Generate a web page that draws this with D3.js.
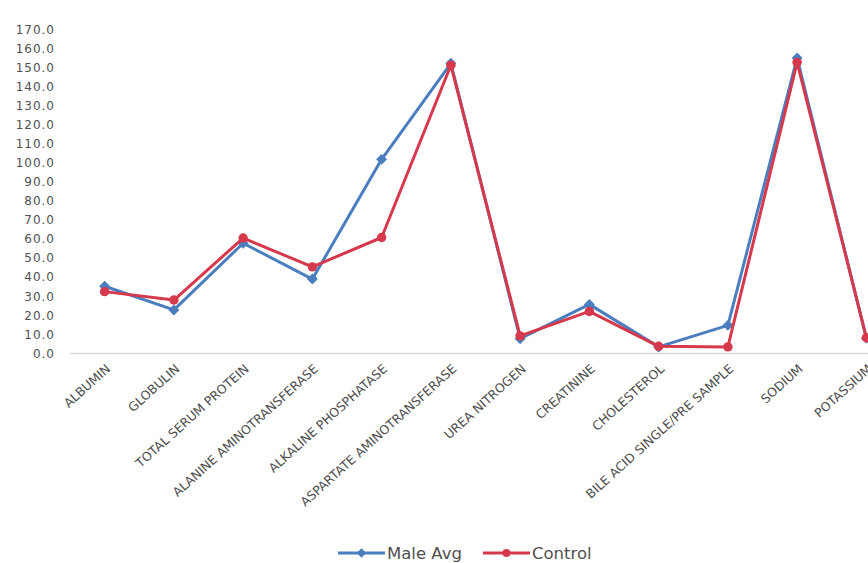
<!DOCTYPE html>
<html>
<head>
<meta charset="utf-8">
<script src="https://cdn.jsdelivr.net/npm/d3@7"></script>
<style>
  html, body { margin: 0; padding: 0; background: #fff; }
  svg { display: block; }
</style>
</head>
<body>
<svg id="chart" width="868" height="563"></svg>
<script>
// Serum chemistry parameters
const categories = [
  "ALBUMIN", "GLOBULIN", "TOTAL SERUM PROTEIN", "ALANINE AMINOTRANSFERASE",
  "ALKALINE PHOSPHATASE", "ASPARTATE AMINOTRANSFERASE", "UREA NITROGEN",
  "CREATININE", "CHOLESTEROL", "BILE ACID SINGLE/PRE SAMPLE", "SODIUM", "POTASSIUM"
];
const maleAvg = [35.0, 22.6, 57.6, 38.8, 101.6, 152.0, 7.5, 25.5, 3.2, 14.5, 154.8, 7.8];
const control = [32.2, 27.8, 60.3, 45.2, 60.6, 151.0, 9.0, 21.8, 3.5, 3.2, 152.5, 8.0];
const yTicks = [0, 10, 20, 30, 40, 50, 60, 70, 80, 90, 100, 110, 120, 130, 140, 150, 160, 170];
const seriesNames = ["Male Avg", "Control"];
const seriesColors = ["#4a7ebf", "#d6384c"];

const svg = d3.select("#chart");
const plotLeft = 70, plotRight = 901, plotTop = 29, plotBottom = 353;

const x = d3.scalePoint().domain(categories).range([plotLeft, plotRight]).padding(0.5);
const y = d3.scaleLinear().domain([0, 170]).range([plotBottom, plotTop]);

// Marker shapes: square turned 45° for Male Avg, circle for Control
const markerType = [d3.symbolSquare, d3.symbolCircle];
const markerRotate = [45, 0];

// Y axis labels (no axis line)
const yAxis = svg.append("g")
  .attr("transform", `translate(${55},0)`)
  .call(d3.axisLeft(y).tickValues(yTicks).tickFormat(d3.format(".1f")).tickSize(0).tickPadding(0));
yAxis.select(".domain").remove();
yAxis.selectAll("text")
  .attr("fill", "#505050")
  .attr("font-family", "DejaVu Sans, sans-serif")
  .attr("font-size", 12)
  .attr("letter-spacing", 1)
  .attr("dy", "0.35em");

// Category axis
const xAxis = svg.append("g")
  .attr("transform", `translate(0,${plotBottom})`)
  .call(d3.axisBottom(x).tickSize(0).tickPadding(0));
xAxis.select(".domain").remove();
svg.append("line")
  .attr("x1", plotLeft).attr("x2", 868)
  .attr("y1", plotBottom + 0.5).attr("y2", plotBottom + 0.5)
  .attr("stroke", "#d9d9d9").attr("stroke-width", 1.5);
xAxis.selectAll("text")
  .attr("fill", "#505050")
  .attr("font-family", "DejaVu Sans, sans-serif")
  .attr("font-size", 12.5)
  .attr("text-anchor", "end")
  .attr("dy", null)
  .attr("y", 0)
  .attr("transform", "translate(6,17) rotate(-42)");

// Series lines and markers
const series = [maleAvg, control];
const line = d3.line().x((d, i) => x(categories[i])).y(d => y(d));

series.forEach((vals, s) => {
  svg.append("path")
    .datum(vals)
    .attr("d", line)
    .attr("fill", "none")
    .attr("stroke", seriesColors[s])
    .attr("stroke-width", 3)
    .attr("stroke-linejoin", "round");
  svg.append("g").selectAll("path")
    .data(vals)
    .join("path")
    .attr("transform", (d, i) => `translate(${x(categories[i])},${y(d)}) rotate(${markerRotate[s]})`)
    .attr("d", d3.symbol().type(markerType[s]).size(s === 0 ? 60 : 70))
    .attr("fill", seriesColors[s]);
});

// Legend
const legend = svg.append("g").attr("transform", "translate(338,553)");
const legendItems = [{ x: 0, w: 47 }, { x: 145, w: 47 }];
seriesNames.forEach((name, s) => {
  const g = legend.append("g").attr("transform", `translate(${legendItems[s].x},0)`);
  g.append("line")
    .attr("x1", 0).attr("x2", legendItems[s].w)
    .attr("stroke", seriesColors[s]).attr("stroke-width", 3);
  g.append("path")
    .attr("transform", `translate(${legendItems[s].w / 2},0) rotate(${markerRotate[s]})`)
    .attr("d", d3.symbol().type(markerType[s]).size(s === 0 ? 45 : 50))
    .attr("fill", seriesColors[s]);
  g.append("text")
    .attr("x", legendItems[s].w + 2)
    .attr("dy", "0.35em")
    .attr("fill", "#505050")
    .attr("font-family", "DejaVu Sans, sans-serif")
    .attr("font-size", 16.5)
    .text(name);
});
</script>
</body>
</html>
